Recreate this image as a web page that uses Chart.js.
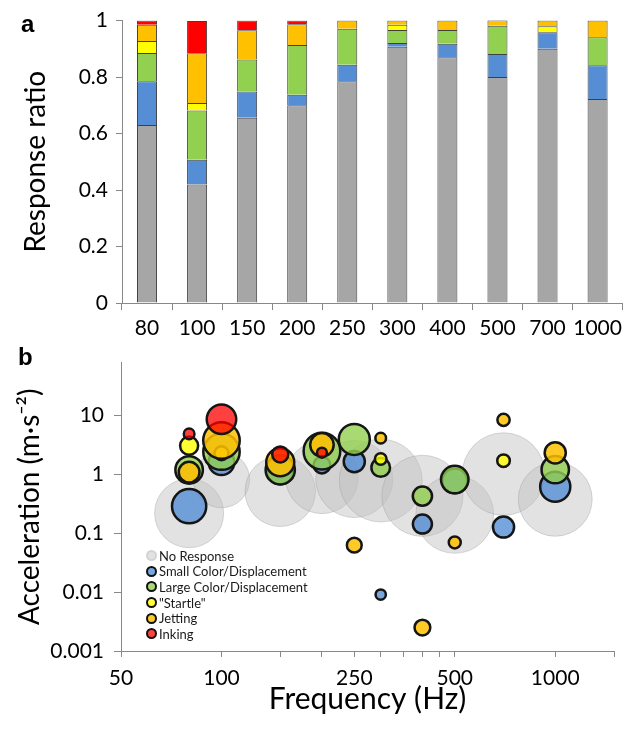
<!DOCTYPE html>
<html>
<head>
<meta charset="utf-8">
<script src="https://cdn.jsdelivr.net/npm/chart.js@4.4.1/dist/chart.umd.min.js"></script>
<style>
    html, body { margin: 0; padding: 0; background: #fff; }
    #wrap { position: relative; width: 628px; height: 735px; font-family: Lato, sans-serif; color: #000; }
    #boxA { position: absolute; left: 0; top: 0; width: 628px; height: 340px; }
    #boxB { position: absolute; left: 0; top: 340px; width: 628px; height: 395px; }
    .tag { position: absolute; font: bold 24px "Liberation Sans", Arial, sans-serif; }
    #legendB { position: absolute; left: 146px; top: 548px; font-size: 13px; color: #1a1a1a; }
    #legendB .row { display: flex; align-items: center; height: 15.6px; white-space: nowrap; }
    #legendB .dot { display: inline-block; width: 7px; height: 7px; border-radius: 50%; border: 2px solid #111; margin-right: 2px; }
</style>
</head>
<body>
<div id="wrap">
    <div id="boxA"><canvas id="chartA"></canvas></div>
    <div id="boxB"><canvas id="chartB"></canvas></div>
    <div class="tag" style="left:21px; top:10px;">a</div>
    <div class="tag" style="left:18px; top:343px;">b</div>
    <div id="legendB"></div>
</div>
<script>
// --- DATA ---
const freqLabels = ['80', '100', '150', '200', '250', '300', '400', '500', '700', '1000'];
const freqs = [80, 100, 150, 200, 250, 300, 400, 500, 700, 1000];

// response ratios (panel a), bottom to top
const noResponse = [0.63, 0.42, 0.656, 0.70, 0.785, 0.907, 0.87, 0.80, 0.90, 0.722];
const smallColor = [0.155, 0.087, 0.093, 0.037, 0.059, 0.014, 0.048, 0.082, 0.059, 0.12];
const largeColor = [0.10, 0.175, 0.113, 0.177, 0.127, 0.046, 0.049, 0.10, null, 0.099];
const startle    = [0.043, 0.026, null, null, null, 0.018, null, null, 0.021, null];
const jetting    = [0.057, 0.176, 0.104, 0.073, 0.029, 0.015, 0.033, 0.019, 0.020, 0.059];
const inking     = [0.015, 0.115, 0.034, 0.013, null, null, null, null, null, null];

// acceleration (m/s^2) at which each response was seen (panel b)
const accNoResponse = [0.22, 0.82, 0.52, 0.90, 0.84, 0.79, 0.435, 0.21, 1.02, 0.38];
const accSmall      = [0.29, 1.62, 1.15, 1.45, 1.66, 0.0091, 0.144, 0.78, 0.128, 0.62];
const accLarge      = [1.2, 2.45, 1.2, 2.5, 3.95, 1.32, 0.43, 0.82, null, 1.21];
const accStartle    = [3.1, 2.3, null, null, null, 1.84, null, null, 1.72, null];
const accJetting    = [1.1, 3.8, 1.62, 3.2, 0.063, 4.15, 0.0025, 0.07, 8.5, 2.34];
const accInking     = [4.9, 8.7, 2.2, 2.35, null, null, null, null, null, null];

const xTickVals = [50, 100, 150, 200, 250, 300, 350, 400, 450, 500, 1000, 1500];
const xTickLabels = [50, 100, 250, 500, 1000];
const yTickVals = [0.001, 0.01, 0.1, 1, 10];

const series = [
    { name: 'No Response', ratio: noResponse, acc: accNoResponse, bar: '#a6a6a6' },
    { name: 'Small Color/Displacement', ratio: smallColor, acc: accSmall, bar: '#558ed5' },
    { name: 'Large Color/Displacement', ratio: largeColor, acc: accLarge, bar: '#92d050' },
    { name: '"Startle"', ratio: startle, acc: accStartle, bar: '#ffff00' },
    { name: 'Jetting', ratio: jetting, acc: accJetting, bar: '#ffc000' },
    { name: 'Inking', ratio: inking, acc: accInking, bar: '#ff0000' }
];
const bubbleFill = ['rgba(190,190,190,0.45)', 'rgba(85,142,213,0.8)', 'rgba(146,208,80,0.8)',
                    'rgba(255,255,0,0.8)', 'rgba(255,192,0,0.85)', 'rgba(255,0,0,0.75)'];

const FONT = 'Lato, sans-serif';
const AXIS = '#888888';
const K = 43.5; // bubble area proportional to response ratio

// --- PANEL A: stacked bars ---
new Chart(document.getElementById('chartA'), {
    type: 'bar',
    data: {
        labels: freqLabels,
        datasets: series.map(s => ({
            label: s.name,
            data: s.ratio,
            backgroundColor: s.bar,
            borderColor: '#404040',
            borderWidth: 1,
            barPercentage: 0.4,
            categoryPercentage: 1.0
        }))
    },
    options: {
        responsive: true, maintainAspectRatio: false, animation: false,
        layout: { padding: { top: 19, right: 1, left: 0, bottom: 0 } },
        plugins: { legend: { display: false }, tooltip: { enabled: false } },
        scales: {
            x: {
                stacked: true,
                grid: { drawOnChartArea: false, drawTicks: true, tickLength: 7, color: AXIS },
                border: { color: AXIS },
                ticks: { color: '#000', font: { family: FONT, size: 21 }, padding: 6,
                         maxRotation: 0, autoSkip: false },
                afterFit(scale) { scale.height = 37; }
            },
            y: {
                stacked: true, min: 0, max: 1,
                grid: { drawOnChartArea: false, drawTicks: true, tickLength: 6, color: AXIS },
                border: { color: AXIS },
                ticks: { stepSize: 0.2, color: '#000', font: { family: FONT, size: 21 }, padding: 8,
                         callback: v => String(Number(v.toFixed(1))) },
                title: { display: true, text: 'Response ratio', color: '#000',
                         font: { family: FONT, size: 28 }, padding: { top: 19, bottom: 0 } },
                afterFit(scale) { scale.width = 122; }
            }
        }
    }
});

// --- PANEL B: bubbles ---
function bubblePoints(acc, ratio) {
    const pts = [];
    freqs.forEach((f, i) => {
        if (acc[i] != null && ratio[i] != null) pts.push({ x: f, y: acc[i], r: K * Math.sqrt(ratio[i]) });
    });
    return pts;
}

new Chart(document.getElementById('chartB'), {
    type: 'bubble',
    data: {
        datasets: series.map((s, i) => ({
            label: s.name,
            data: bubblePoints(s.acc, s.ratio),
            backgroundColor: bubbleFill[i],
            borderColor: i === 0 ? 'rgba(150,150,150,0.35)' : '#151515',
            borderWidth: i === 0 ? 1 : 2.5,
            order: series.length - i,
            clip: false
        }))
    },
    options: {
        responsive: true, maintainAspectRatio: false, animation: false,
        layout: { autoPadding: false, padding: { top: 15, right: 14, left: 0, bottom: 0 } },
        plugins: { legend: { display: false }, tooltip: { enabled: false } },
        scales: {
            x: {
                type: 'logarithmic', min: 50, max: 1500,
                afterBuildTicks(scale) { scale.ticks = xTickVals.map(v => ({ value: v })); },
                grid: { drawOnChartArea: false, drawTicks: true, tickLength: 6, color: AXIS },
                border: { color: AXIS },
                ticks: {
                    autoSkip: false, maxRotation: 0, color: '#000', padding: 9,
                    font: { family: FONT, size: 21 },
                    callback: v => xTickLabels.includes(v) ? String(v) : ''
                },
                title: { display: true, text: 'Frequency (Hz)', color: '#000',
                         font: { family: FONT, size: 30 }, padding: { top: 0, bottom: 18 } },
                afterFit(scale) { scale.height = 84; }
            },
            y: {
                type: 'logarithmic', min: 0.001, max: 80,
                afterBuildTicks(scale) { scale.ticks = yTickVals.map(v => ({ value: v })); },
                grid: { drawOnChartArea: false, drawTicks: true, tickLength: 7, color: AXIS },
                border: { color: AXIS },
                ticks: { color: '#000', padding: 10, font: { family: FONT, size: 21 },
                         callback: v => String(v) },
                title: { display: true, text: 'Acceleration (m·s⁻²)', color: '#000',
                         font: { family: FONT, size: 28 }, padding: { top: 13, bottom: 0 } },
                afterFit(scale) { scale.width = 121; }
            }
        }
    }
});

// legend for panel b
const legendB = document.getElementById('legendB');
series.forEach((s, i) => {
    const row = document.createElement('div');
    row.className = 'row';
    const dot = document.createElement('span');
    dot.className = 'dot';
    dot.style.background = bubbleFill[i];
    if (i === 0) dot.style.borderColor = 'rgba(190,190,190,0.4)';
    row.appendChild(dot);
    row.appendChild(document.createTextNode(s.name));
    legendB.appendChild(row);
});
</script>
</body>
</html>
